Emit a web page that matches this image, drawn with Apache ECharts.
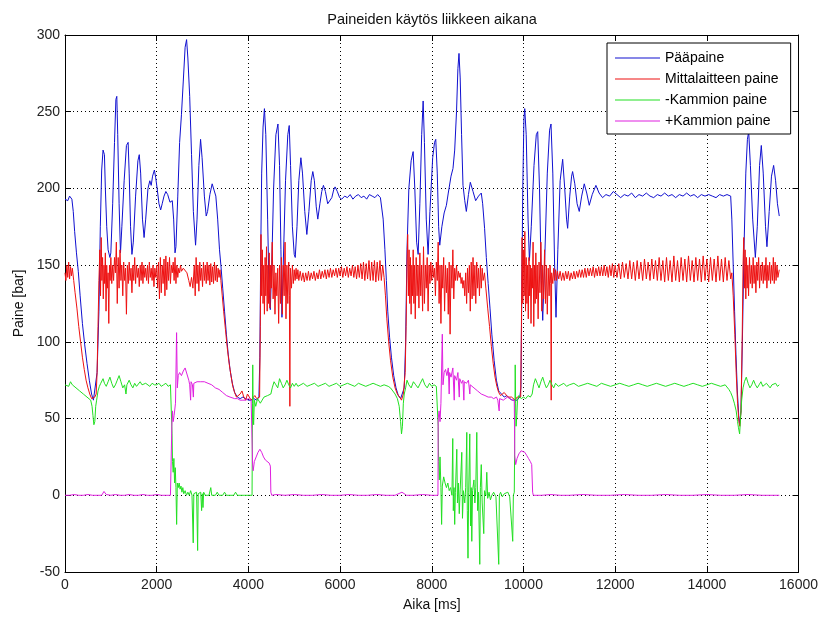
<!DOCTYPE html>
<html><head><meta charset="utf-8">
<script src="https://cdn.jsdelivr.net/npm/echarts@6/dist/echarts.min.js"></script>
<style>html,body{margin:0;padding:0;background:#fff}#c{width:821px;height:617px}</style>
</head><body><div id="c"></div><script>
const titleText = 'Paineiden käytös liikkeen aikana';
const xName = 'Aika [ms]';
const yName = 'Paine [bar]';
const seriesNames = ['Pääpaine', 'Mittalaitteen paine', '-Kammion paine', '+Kammion paine'];
const xTicks = [0, 2000, 4000, 6000, 8000, 10000, 12000, 14000, 16000];
const yTicks = [-50, 0, 50, 100, 150, 200, 250, 300];

const paapaine = [
[0,193],[60,192],[100,195],[150,193],[180,185],[210,172],[250,158],[290,146],[330,130],[380,112],[430,98],[480,86],[530,75],[580,66],[620,62],[660,63],[700,80],[740,120],[770,175],[800,212],[830,225],[860,222],[880,200],[910,175],[940,160],[980,155],[1000,158],[1040,190],[1080,230],[1110,258],[1130,260],[1150,235],[1180,190],[1210,158],[1240,175],[1290,205],[1340,228],[1377,230],[1400,210],[1430,175],[1460,157],[1490,165],[1540,195],[1590,218],[1620,222],[1650,210],[1690,180],[1725,168],[1760,180],[1810,200],[1850,205],[1880,202],[1910,208],[1950,212],[1978,207],[2010,200],[2050,190],[2087,186],[2120,190],[2160,195],[2200,198],[2240,196],[2290,191],[2340,192],[2370,180],[2400,158],[2420,162],[2460,195],[2500,230],[2540,248],[2580,270],[2620,292],[2652,297],[2680,285],[2720,260],[2760,222],[2800,185],[2848,163],[2880,180],[2920,215],[2957,232],[2990,220],[3040,195],[3080,182],[3110,185],[3160,196],[3210,203],[3246,202],[3290,195],[3330,180],[3370,160],[3400,150],[3440,135],[3480,120],[3520,105],[3560,92],[3600,82],[3650,73],[3700,67],[3760,64],[3820,63],[3880,64],[3940,63],[4000,62],[4060,62],[4120,63],[4180,62],[4230,64],
[4250,90],[4270,160],[4290,210],[4320,240],[4350,252],[4380,235],[4420,180],[4450,135],[4478,121],[4510,150],[4550,200],[4600,235],[4645,242],[4680,215],[4710,160],[4732,116],[4760,150],[4810,205],[4860,235],[4891,241],[4920,215],[4960,175],[5000,157],[5022,155],[5060,175],[5100,205],[5145,220],[5180,210],[5230,185],[5275,170],[5320,185],[5370,205],[5405,211],[5440,205],[5480,188],[5514,180],[5560,190],[5600,198],[5637,202],[5680,198],[5730,190],[5768,189],[5820,194],[5860,199],[5891,201],[5940,198],[5990,194],[6036,193],[6100,195],[6160,194],[6220,196],[6280,193],[6340,195],[6400,196],[6460,194],[6520,195],[6580,193],[6640,196],[6700,195],[6760,194],[6820,196],[6880,194],[6906,194],[6940,180],[6978,160],[7010,140],[7040,120],[7080,103],[7120,90],[7170,78],[7220,70],[7270,65],[7320,63],[7360,64],[7400,70],[7430,100],
[7460,160],[7500,200],[7550,218],[7594,224],[7630,200],[7670,165],[7703,157],[7740,190],[7780,235],[7812,257],[7840,230],[7880,180],[7920,157],[7960,185],[8020,220],[8060,230],[8087,232],[8120,210],[8150,175],[8174,163],[8220,175],[8270,184],[8319,189],[8360,197],[8420,208],[8463,213],[8500,225],[8540,250],[8570,278],[8594,288],[8620,272],[8650,235],[8681,202],[8720,192],[8754,185],[8800,196],[8841,204],[8900,198],[8957,192],[9020,195],[9080,197],[9110,190],[9152,174],[9190,155],[9230,138],[9270,122],[9310,105],[9360,88],[9410,75],[9460,68],[9520,66],[9580,64],[9640,65],[9700,63],[9760,62],[9800,63],[9860,62],[9920,64],[9945,70],
[9960,120],[9985,200],[10010,245],[10028,252],[10060,235],[10100,180],[10130,153],[10170,175],[10230,215],[10280,235],[10311,237],[10350,200],[10390,140],[10420,114],[10460,150],[10520,210],[10570,238],[10601,242],[10640,210],[10680,150],[10710,116],[10750,160],[10800,205],[10855,219],[10900,200],[10940,180],[10964,174],[11010,195],[11050,208],[11072,211],[11120,203],[11170,190],[11217,185],[11270,195],[11326,203],[11380,197],[11435,189],[11500,196],[11580,202],[11650,197],[11725,194],[11800,196],[11880,195],[11960,198],[12040,196],[12120,194],[12200,196],[12280,195],[12360,197],[12440,194],[12520,196],[12600,195],[12680,197],[12760,195],[12840,194],[12920,196],[13000,195],[13080,197],[13160,195],[13240,196],[13320,194],[13400,196],[13480,195],[13560,197],[13640,195],[13720,196],[13800,194],[13880,196],[13960,195],[14040,196],[14120,195],[14200,194],[14280,196],[14360,195],[14440,196],[14520,195],[14545,180],[14575,150],[14605,120],[14635,92],[14665,68],[14695,52],[14715,46],[14745,55],[14775,100],[14810,160],[14850,210],[14885,232],[14913,237],[14950,215],[15000,180],[15058,155],[15100,175],[15150,215],[15188,228],[15230,210],[15280,175],[15311,162],[15360,185],[15410,208],[15457,215],[15500,205],[15540,190],[15580,182]
];

const mittalaite = [
[0,145],[20,140],[40,150],[60,142],[80,152],[100,141],[120,149],[140,143],[160,148],[190,140],[220,132],[260,122],[300,110],[340,100],[380,90],[420,82],[460,75],[500,70],[540,66],[580,63],[620,62],[650,64],[680,66],[700,80],[720,110],[740,140],[760,160],[775,130],[790,168],[805,140],[820,155],[835,128],[850,150],[865,138],[880,158],[895,120],[910,150],[925,135],[940,145],[955,112],[970,150],[985,140],[1000,155],[1020,138],[1040,150],[1060,140],[1080,155],[1100,145],[1120,165],[1140,125],[1160,155],[1180,135],[1200,160],[1220,140],[1240,150],[1260,130],[1280,152],[1300,140],[1320,148],[1340,118],[1360,150],[1380,138],[1400,152],[1420,140],[1440,148],[1460,132],[1480,150],[1500,140],[1520,155],[1540,138],[1560,150],[1580,142],[1600,148],[1620,136],[1640,150],[1660,140],[1680,152],[1700,138],[1720,150],[1740,142],[1760,148],[1780,140],[1800,150],[1820,138],[1840,152],[1860,142],[1880,148],[1900,140],[1920,150],[1940,136],[1960,148],[1980,142],[2000,150],[2020,135],[2040,152],[2060,128],[2080,155],[2100,132],[2120,150],[2140,138],[2160,154],[2180,130],[2200,156],[2220,134],[2240,152],[2260,140],[2280,155],[2300,138],[2320,150],[2340,145],[2360,152],[2380,140],[2400,155],[2420,138],[2440,150],[2460,142],[2480,148],[2500,145],[2520,150],[2540,146],[2580,148],[2620,147],[2660,145],[2700,140],[2730,136],[2760,142],[2790,135],[2820,150],[2840,130],[2860,155],[2880,138],[2900,150],[2920,133],[2940,152],[2960,140],[2980,148],[3000,136],[3020,152],[3040,140],[3060,150],[3080,138],[3100,152],[3120,140],[3140,150],[3160,137],[3180,151],[3200,139],[3220,149],[3240,138],[3260,152],[3280,140],[3300,150],[3320,139],[3340,148],[3360,142],[3380,147],[3400,140],[3430,130],[3460,120],[3500,108],[3540,96],[3580,86],[3620,78],[3660,71],[3700,67],[3740,64],[3780,63],[3820,66],[3860,68],[3900,64],[3940,62],[3980,66],[4020,64],[4060,62],[4100,63],[4140,65],[4180,63],[4220,62],[4245,64],
[4260,110],[4275,170],[4290,130],[4305,160],[4320,125],[4335,150],[4350,118],[4365,155],[4380,130],[4395,162],[4410,120],[4425,150],[4440,125],[4455,158],[4470,122],[4485,150],[4500,135],[4520,165],[4540,128],[4560,150],[4580,118],[4600,145],[4620,130],[4640,148],[4660,112],[4680,150],[4700,125],[4720,155],[4740,118],[4760,150],[4780,130],[4800,165],[4820,115],[4840,150],[4860,125],[4880,152],[4895,130],[4905,58],[4915,148],[4940,135],[4960,150],[4980,138],[5000,147],[5020,140],[5040,148],[5060,141],[5080,147],[5100,140],[5130,146],[5160,140],[5190,145],[5220,139],[5250,145],[5280,140],[5310,146],[5340,140],[5370,145],[5400,141],[5430,146],[5460,140],[5490,145],[5520,141],[5550,147],[5580,141],[5610,146],[5640,142],[5670,147],[5700,141],[5730,147],[5760,142],[5790,148],[5820,142],[5850,147],[5880,143],[5910,148],[5940,142],[5970,148],[6000,143],[6030,149],[6060,142],[6090,148],[6120,143],[6150,149],[6180,142],[6210,148],[6240,143],[6270,150],[6300,142],[6330,149],[6360,141],[6390,150],[6420,142],[6450,151],[6480,141],[6510,152],[6540,140],[6570,151],[6600,141],[6630,153],[6660,140],[6690,152],[6720,140],[6750,153],[6780,139],[6810,152],[6840,140],[6870,153],[6900,140],[6930,150],[6960,142],[6990,130],[7020,115],[7060,100],[7100,88],[7150,77],[7200,70],[7250,66],[7300,64],[7340,62],[7380,66],[7420,80],[7440,110],
[7460,150],[7475,170],[7490,130],[7505,160],[7520,125],[7535,155],[7550,118],[7565,150],[7580,130],[7595,160],[7610,125],[7625,150],[7640,115],[7660,155],[7680,130],[7700,150],[7720,122],[7740,158],[7760,130],[7780,150],[7800,120],[7820,162],[7840,125],[7860,150],[7880,135],[7900,155],[7920,120],[7940,150],[7960,138],[7980,152],[8000,140],[8020,150],[8040,142],[8060,148],[8080,130],[8100,152],[8120,140],[8140,165],[8160,125],[8180,150],[8200,112],[8220,150],[8240,135],[8260,155],[8280,120],[8300,150],[8320,132],[8340,148],[8360,118],[8380,152],[8400,105],[8420,150],[8440,135],[8460,160],[8480,128],[8500,148],[8520,140],[8540,150],[8560,140],[8580,146],[8600,142],[8620,145],[8640,138],[8660,142],[8680,135],[8700,140],[8720,130],[8740,145],[8760,125],[8780,148],[8800,132],[8820,150],[8840,120],[8860,152],[8880,128],[8900,155],[8920,130],[8940,150],[8960,125],[8980,152],[9000,135],[9020,148],[9040,130],[9060,150],[9080,135],[9100,148],[9120,140],[9150,145],[9180,135],[9220,122],[9260,110],[9300,97],[9340,86],[9380,77],[9420,71],[9460,67],[9500,65],[9540,64],[9580,67],[9620,68],[9660,64],[9700,63],[9740,64],[9780,63],[9820,62],[9860,64],[9900,63],[9940,64],
[9955,110],[9970,168],[9985,125],[10000,160],[10015,130],[10030,172],[10045,120],[10060,155],[10075,125],[10090,150],[10105,115],[10120,155],[10135,130],[10150,150],[10165,112],[10180,148],[10195,135],[10210,165],[10225,110],[10240,150],[10255,125],[10270,158],[10285,128],[10300,150],[10320,115],[10340,152],[10360,132],[10380,165],[10400,120],[10420,150],[10440,128],[10460,160],[10480,125],[10500,150],[10520,118],[10540,148],[10560,130],[10580,150],[10595,138],[10605,62],[10615,145],[10640,138],[10660,148],[10680,140],[10700,147],[10720,140],[10740,146],[10770,141],[10800,146],[10830,140],[10860,145],[10890,140],[10920,146],[10950,141],[10980,146],[11010,140],[11040,145],[11070,141],[11100,146],[11130,141],[11160,146],[11190,142],[11220,147],[11250,142],[11280,147],[11310,142],[11340,148],[11370,142],[11400,148],[11430,143],[11460,148],[11490,143],[11520,149],[11550,142],[11580,148],[11610,143],[11640,149],[11670,143],[11700,149],[11730,143],[11760,150],[11790,143],[11820,149],[11850,142],[11880,150],[11910,143],[11940,151],[11970,142],[12000,150],[12040,142],[12080,151],[12120,141],[12160,152],[12200,142],[12240,151],[12280,141],[12320,153],[12360,141],[12400,152],[12440,140],[12480,153],[12520,141],[12560,152],[12600,140],[12640,154],[12680,141],[12720,152],[12760,140],[12800,154],[12840,141],[12880,153],[12920,140],[12960,155],[13000,140],[13040,153],[13080,139],[13120,155],[13160,140],[13200,153],[13240,139],[13280,156],[13320,140],[13360,153],[13400,139],[13440,155],[13480,140],[13520,154],[13560,139],[13600,156],[13640,140],[13680,153],[13720,139],[13760,155],[13800,140],[13840,154],[13880,139],[13920,156],[13960,140],[14000,154],[14040,139],[14080,155],[14120,140],[14160,154],[14200,139],[14240,156],[14280,140],[14320,154],[14360,139],[14400,155],[14440,140],[14480,153],[14520,141],[14545,145],[14575,130],[14610,105],[14640,80],[14670,60],[14700,48],[14720,45],[14745,55],[14770,100],[14790,150],[14805,168],[14820,135],[14835,160],[14850,128],[14865,155],[14880,135],[14895,150],[14910,130],[14930,155],[14950,138],[14970,150],[14990,135],[15010,155],[15030,138],[15050,150],[15070,132],[15090,152],[15110,140],[15130,155],[15150,135],[15170,150],[15190,140],[15210,152],[15230,138],[15250,150],[15270,140],[15290,155],[15310,135],[15330,150],[15350,140],[15370,152],[15390,138],[15410,150],[15430,140],[15450,155],[15470,138],[15490,152],[15510,140],[15530,150],[15550,142],[15580,147]
];

const miinusKammio = [
[0,72],[40,73],[80,71],[120,74],[160,72],[200,71],[240,70],[280,69],[320,68],[360,67],[400,66],[440,65],[480,64],[520,63],[560,62],[590,58],[610,52],[630,46],[650,48],[670,58],[690,62],[720,68],[750,71],[780,73],[800,72],[830,76],[860,73],[900,71],[940,74],[980,77],[1020,73],[1060,70],[1100,72],[1140,75],[1180,78],[1220,74],[1260,70],[1300,72],[1330,66],[1350,72],[1400,75],[1440,72],[1480,70],[1520,73],[1560,71],[1600,72],[1640,74],[1680,72],[1720,71],[1760,73],[1800,72],[1850,71],[1900,73],[1950,72],[2000,72],[2050,73],[2100,71],[2150,72],[2200,73],[2250,71],[2300,72],[2325,72],
[2335,40],[2345,22],[2360,15],[2375,24],[2390,8],[2405,18],[2420,5],[2435,-19],[2450,8],[2470,5],[2490,8],[2510,4],[2530,6],[2550,2],[2570,5],[2590,1],[2620,3],[2650,0],[2680,2],[2710,0],[2740,3],[2770,0],[2797,-31],[2810,1],[2840,0],[2870,2],[2893,-36],[2905,1],[2930,0],[2960,2],[2980,-10],[2995,1],[3010,-8],[3025,2],[3060,0],[3100,1],[3140,0],[3180,5],[3200,0],[3240,1],[3280,0],[3320,2],[3360,0],[3400,1],[3440,0],[3480,2],[3520,0],[3560,1],[3600,0],[3640,1],[3680,0],[3720,2],[3760,0],[3800,1],[3840,0],[3880,1],[3920,0],[3960,1],[4000,0],[4040,1],[4080,0],
[4090,60],[4095,85],[4105,50],[4115,46],[4130,62],[4160,58],[4200,63],[4260,60],[4300,62],[4340,64],[4380,63],[4420,65],[4460,64],[4490,66],[4520,70],[4560,74],[4600,72],[4640,70],[4680,76],[4720,73],[4760,70],[4800,72],[4840,75],[4880,72],[4920,70],[4960,73],[5000,71],[5040,73],[5080,71],[5120,72],[5200,73],[5280,71],[5360,72],[5440,73],[5520,71],[5600,72],[5680,73],[5760,71],[5840,72],[5920,73],[6000,71],[6080,72],[6160,73],[6240,72],[6320,71],[6400,73],[6480,72],[6560,71],[6640,72],[6720,73],[6800,72],[6880,71],[6960,72],[7000,72],[7050,71],[7100,70],[7150,68],[7200,66],[7250,63],[7290,58],[7320,48],[7340,40],[7360,45],[7380,60],[7400,66],[7430,70],[7460,75],[7500,72],[7550,70],[7600,74],[7650,72],[7700,70],[7750,73],[7800,76],[7850,72],[7900,70],[7950,73],[8000,71],[8050,72],[8100,71],[8130,72],
[8140,45],[8150,22],[8165,10],[8180,25],[8200,5],[8215,-19],[8230,6],[8260,12],[8290,8],[8320,5],[8350,8],[8380,3],[8410,5],[8440,0],[8458,37],[8470,-10],[8485,5],[8500,-19],[8515,2],[8546,30],[8560,-5],[8580,8],[8600,-12],[8620,4],[8655,28],[8670,-15],[8690,3],[8720,-5],[8740,5],[8764,41],[8775,-10],[8790,-41],[8805,2],[8829,40],[8845,-20],[8860,5],[8873,-30],[8890,3],[8920,10],[8940,-5],[8960,5],[8982,41],[9000,-10],[9020,2],[9047,-45],[9060,5],[9080,20],[9100,-5],[9134,-25],[9150,3],[9180,0],[9200,15],[9220,-2],[9250,2],[9280,-3],[9310,0],[9350,2],[9400,-1],[9440,0],[9461,-45],[9475,0],[9500,2],[9540,-1],[9580,1],[9620,0],[9660,2],[9700,-1],[9740,0],[9766,-30],[9780,0],[9800,2],
[9810,40],[9820,85],[9830,60],[9840,45],[9855,52],[9870,62],[9900,65],[9950,63],[10000,64],[10050,63],[10100,65],[10150,64],[10190,66],[10220,72],[10260,76],[10300,73],[10340,70],[10380,74],[10420,77],[10460,73],[10500,70],[10540,72],[10580,75],[10620,72],[10660,70],[10700,73],[10760,71],[10820,72],[10880,73],[10940,71],[11000,72],[11100,73],[11200,71],[11300,72],[11400,73],[11500,72],[11600,71],[11700,73],[11800,72],[11900,71],[12000,72],[12100,73],[12200,72],[12300,71],[12400,72],[12500,73],[12600,72],[12700,71],[12800,72],[12900,73],[13000,72],[13100,71],[13200,72],[13300,73],[13400,72],[13500,71],[13600,72],[13700,73],[13800,72],[13900,71],[14000,72],[14100,73],[14200,72],[14300,71],[14400,72],[14440,71],[14480,69],[14520,67],[14560,64],[14600,60],[14640,55],[14670,48],[14690,44],[14715,40],[14735,50],[14760,62],[14790,70],[14820,74],[14860,77],[14900,73],[14940,70],[14980,72],[15020,75],[15060,72],[15100,70],[15140,72],[15180,74],[15220,71],[15260,70],[15300,73],[15340,72],[15380,70],[15420,72],[15460,71],[15500,73],[15540,71],[15580,72]
];

const plusKammio = [
[0,0],[100,0],[200,0.5],[300,0],[400,0],[500,0.5],[600,0],[700,0],[800,0],[850,2.5],[900,0.5],[1000,0],[1100,0.5],[1200,0],[1300,0],[1400,0.5],[1500,0],[1600,0],[1700,0.5],[1800,0],[1900,0],[2000,0.5],[2100,0],[2200,0],[2300,0],[2325,0],
[2330,45],[2345,55],[2360,48],[2380,52],[2410,60],[2434,106],[2450,70],[2470,78],[2500,80],[2540,78],[2580,81],[2620,83],[2660,82],[2700,75],[2720,72],[2740,62],[2750,74],[2780,72],[2800,64],[2810,73],[2840,72],[2880,74],[2920,73],[2960,74],[3000,73],[3040,74],[3080,73],[3120,73],[3160,72],[3200,72],[3240,71],[3280,70],[3320,70],[3360,69],[3400,68],[3440,67],[3480,66],[3520,65],[3560,64],[3600,64],[3640,63],[3700,63],[3760,63],[3820,62],[3880,62],[3940,62],[4000,63],[4060,62],[4085,62],
[4092,20],[4105,16],[4130,22],[4170,25],[4210,28],[4251,30],[4290,28],[4330,25],[4370,23],[4410,22],[4454,21],[4480,19],[4490,2],[4510,0],[4600,0.5],[4800,0],[5000,0.5],[5200,0],[5400,0],[5600,0.5],[5800,0],[6000,0],[6200,0.5],[6400,0],[6600,0],[6800,0.5],[7000,0],[7200,0],[7350,2],[7450,0],[7600,0],[7800,0.5],[8000,0],[8135,0],
[8140,50],[8160,55],[8180,48],[8200,60],[8230,105],[8245,72],[8270,80],[8300,82],[8330,78],[8360,83],[8380,66],[8390,80],[8420,77],[8460,83],[8490,62],[8500,78],[8540,75],[8570,80],[8600,64],[8610,76],[8650,73],[8680,75],[8700,62],[8710,74],[8757,73],[8800,75],[8830,66],[8840,72],[8880,72],[8920,70],[8960,71],[9000,68],[9040,69],[9080,66],[9120,67],[9160,65],[9193,66],[9230,64],[9260,63],[9300,64],[9350,63],[9411,64],[9440,62],[9470,55],[9480,63],[9520,63],[9560,62],[9600,63],[9650,64],[9700,63],[9750,62],[9800,62],
[9810,26],[9830,20],[9860,24],[9900,27],[9950,29],[9991,30],[10030,28],[10070,26],[10110,24],[10150,22],[10180,20],[10200,2],[10215,0],[10400,0],[10600,0.5],[10800,0],[11000,0],[11300,0.5],[11600,0],[11900,0],[12200,0.5],[12500,0],[12800,0],[13100,0.5],[13400,0],[13700,0],[14000,0.5],[14300,0],[14600,0],[14900,0.5],[15200,0],[15580,0]
];

const colors = ['#1010d0', '#ee1111', '#22e022', '#e020e0'];
const dataSets = [paapaine, mittalaite, miinusKammio, plusKammio];

const chart = echarts.init(document.getElementById('c'), null, {renderer: 'canvas'});
const fontFam = '"Liberation Sans", Arial, sans-serif';
const axisCommon = {
  axisLine: {show: true, onZero: false, lineStyle: {color: '#000', width: 1}},
  axisTick: {show: true, inside: true, length: 6, lineStyle: {color: '#000'}},
};
chart.setOption({
  animation: false,
  backgroundColor: '#fff',
  color: colors,
  title: {
    text: titleText, left: 432, top: 12, textAlign: 'center', padding: 0,
    textStyle: {fontSize: 14.5, fontWeight: 'normal', color: '#111', fontFamily: fontFam}
  },
  grid: {left: 65, right: 22, top: 35, bottom: 42, containLabel: false},
  legend: {
    show: true, orient: 'vertical', left: 607, top: 43,
    data: seriesNames.map((n, i) => ({name: n, icon: 'path://M0,0 L45,0 L45,1 L0,1 Z', itemStyle: {color: colors[i]}})),
    backgroundColor: '#fff', borderColor: '#000', borderWidth: 1, borderRadius: 0,
    padding: [8, 12, 6, 8], itemGap: 7, itemWidth: 45, itemHeight: 14,
    textStyle: {fontSize: 14, color: '#000', fontFamily: fontFam}
  },
  xAxis: [
    Object.assign({
      type: 'value', min: xTicks[0], max: xTicks[xTicks.length - 1], interval: 2000,
      name: xName, nameLocation: 'middle', nameGap: 26,
      nameTextStyle: {fontSize: 14, color: '#111', fontFamily: fontFam},
      axisLabel: {fontSize: 14, color: '#222', margin: 6, fontFamily: fontFam, formatter: v => String(v)},
      splitLine: {show: true, lineStyle: {color: '#000', width: 1, type: [1, 3]}}
    }, axisCommon),
    Object.assign({
      type: 'value', position: 'top', min: xTicks[0], max: xTicks[xTicks.length - 1], interval: 2000,
      axisLabel: {show: false}, splitLine: {show: false}
    }, axisCommon)
  ],
  yAxis: [
    Object.assign({
      type: 'value', min: yTicks[0], max: yTicks[yTicks.length - 1], interval: 50,
      name: yName, nameLocation: 'middle', nameGap: 36, nameRotate: 90,
      nameTextStyle: {fontSize: 14, color: '#111', fontFamily: fontFam},
      axisLabel: {fontSize: 14, color: '#222', margin: 5, fontFamily: fontFam, formatter: v => String(v)},
      splitLine: {show: true, lineStyle: {color: '#000', width: 1, type: [1, 3]}}
    }, axisCommon),
    Object.assign({
      type: 'value', position: 'right', min: yTicks[0], max: yTicks[yTicks.length - 1], interval: 50,
      axisLabel: {show: false}, splitLine: {show: false}
    }, axisCommon)
  ],
  series: seriesNames.map((n, i) => ({
    name: n, type: 'line', data: dataSets[i], symbol: 'none', showSymbol: false,
    xAxisIndex: 0, yAxisIndex: 0,
    lineStyle: {width: 1, color: colors[i]}, itemStyle: {color: colors[i]},
    emphasis: {disabled: true}, silent: true, z: 2 + i
  }))
});
</script></body></html>
